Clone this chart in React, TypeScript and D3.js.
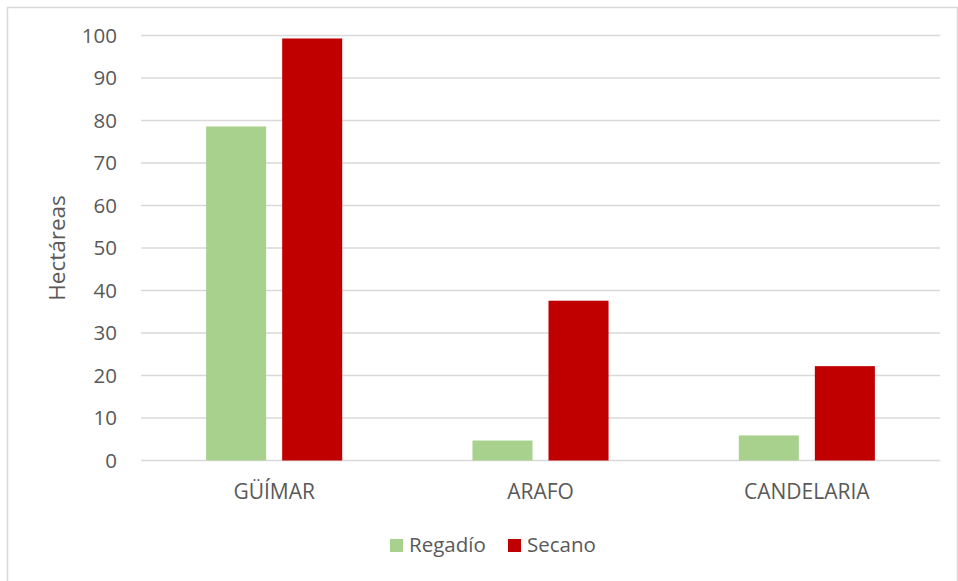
import React, { useEffect, useRef } from "react";
import * as d3 from "d3";

const categories = ["GÜÍMAR", "ARAFO", "CANDELARIA"];
const seriesNames = ["Regadío", "Secano"];
const regadio = [78.6, 4.7, 5.9];
const secano = [99.3, 37.6, 22.2];
const yTicks = [0, 10, 20, 30, 40, 50, 60, 70, 80, 90, 100];
const colors = ["#A9D18E", "#C00000"];

const W = 958;
const H = 581;
const FONT = "'Open Sans', 'Liberation Sans', sans-serif";
const TEXT = "#595959";

export default function App() {
  const ref = useRef<SVGSVGElement | null>(null);

  useEffect(() => {
    const svg = d3.select(ref.current);
    svg.selectAll("*").remove();

    svg
      .append("rect")
      .attr("x", 7.5)
      .attr("y", 7.5)
      .attr("width", 950)
      .attr("height", 590)
      .attr("fill", "#fff")
      .attr("stroke", "#D9D9D9")
      .attr("stroke-width", 1.5);

    const left = 141;
    const right = 940;
    const top = 35.5;
    const bottom = 460.5;

    const y = d3.scaleLinear().domain([0, 100]).range([bottom, top]);
    const x0 = d3
      .scaleBand<string>()
      .domain(categories)
      .range([left, right])
      .paddingInner(0.489)
      .paddingOuter(0.2445);
    const x1 = d3
      .scaleBand<string>()
      .domain(seriesNames)
      .range([0, x0.bandwidth()])
      .paddingInner(0.2105);

    // gridlines
    svg
      .append("g")
      .selectAll("line")
      .data(yTicks)
      .join("line")
      .attr("x1", left)
      .attr("x2", right)
      .attr("y1", (d) => y(d))
      .attr("y2", (d) => y(d))
      .attr("stroke", "#D9D9D9")
      .attr("stroke-width", 1.3);

    // y tick labels
    svg
      .append("g")
      .selectAll("text")
      .data(yTicks)
      .join("text")
      .attr("x", 117)
      .attr("y", (d) => y(d))
      .attr("dy", "0.36em")
      .attr("text-anchor", "end")
      .attr("font-family", FONT)
      .attr("font-size", 20.5)
      .attr("fill", TEXT)
      .text((d) => String(d));

    // bars
    const data = [regadio, secano];
    seriesNames.forEach((s, si) => {
      svg
        .append("g")
        .selectAll("rect")
        .data(categories)
        .join("rect")
        .attr("x", (c) => (x0(c) as number) + (x1(s) as number))
        .attr("width", x1.bandwidth())
        .attr("y", (c, i) => y(data[si][i]))
        .attr("height", (c, i) => y(0) - y(data[si][i]))
        .attr("fill", colors[si]);
    });

    // category labels
    svg
      .append("g")
      .selectAll("text")
      .data(categories)
      .join("text")
      .attr("x", (c) => (x0(c) as number) + x0.bandwidth() / 2)
      .attr("y", 499)
      .attr("text-anchor", "middle")
      .attr("font-family", FONT)
      .attr("font-size", 21)
      .attr("fill", TEXT)
      .text((c) => c);

    // y axis title
    svg
      .append("text")
      .attr("transform", `translate(65, ${(top + bottom) / 2}) rotate(-90)`)
      .attr("text-anchor", "middle")
      .attr("font-family", FONT)
      .attr("font-size", 22.5)
      .attr("fill", TEXT)
      .text("Hectáreas");

    // legend
    const legendX = [390, 508];
    seriesNames.forEach((s, i) => {
      svg
        .append("rect")
        .attr("x", legendX[i])
        .attr("y", 539)
        .attr("width", 13)
        .attr("height", 13)
        .attr("fill", colors[i]);
      svg
        .append("text")
        .attr("x", legendX[i] + 19)
        .attr("y", 552)
        .attr("font-family", FONT)
        .attr("font-size", 20.5)
        .attr("fill", TEXT)
        .text(s);
    });
  }, []);

  return (
    <svg
      ref={ref}
      width={W}
      height={H}
      style={{ position: "absolute", left: 0, top: 0, display: "block", background: "#fff" }}
    />
  );
}
